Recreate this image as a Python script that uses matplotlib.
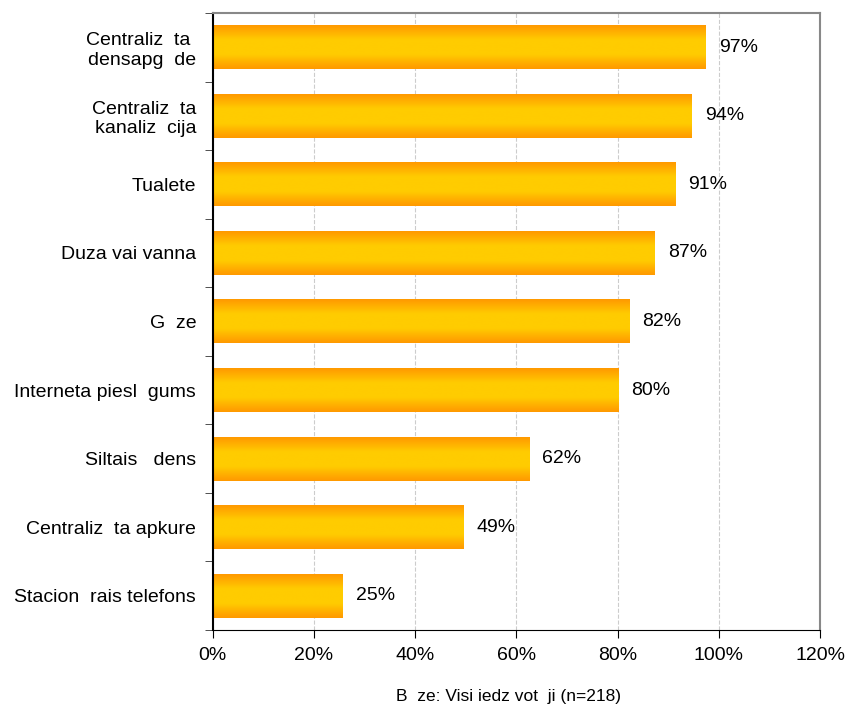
import numpy as np
import matplotlib.pyplot as plt
from matplotlib.colors import LinearSegmentedColormap

plt.rcParams['font.family'] = ['Liberation Sans', 'DejaVu Sans']

categories = ['Centraliz  ta \ndensapg  de', 'Centraliz  ta\nkanaliz  cija', 'Tualete',
              'Duza vai vanna', 'G  ze', 'Interneta piesl  gums', 'Siltais   dens',
              'Centraliz  ta apkure', 'Stacion  rais telefons']
values = [97.4, 94.6, 91.4, 87.3, 82.3, 80.1, 62.5, 49.6, 25.6]
labels = [97, 94, 91, 87, 82, 80, 62, 49, 25]
xticks = [0, 20, 40, 60, 80, 100, 120]

fig = plt.figure(figsize=(8.48, 7.07), dpi=100)
ax = fig.add_axes([0.251, 0.109, 0.716, 0.8725])

cmap = LinearSegmentedColormap.from_list('bar', ['#ff9900', '#ffcc00', '#ffcc00', '#ff9900'])
grad = np.linspace(0, 1, 64).reshape(-1, 1)
h = 0.64
ypos = np.arange(len(categories))
for y, v, lab in zip(ypos, values, labels):
    ax.imshow(grad, cmap=cmap, aspect='auto', extent=[0, v, y + h / 2, y - h / 2],
              interpolation='bicubic', zorder=2)
    ax.text(v + 2.6, y, f'{lab}%', va='center', ha='left', fontsize=14)

ax.set_xlim(0, 120)
ax.set_ylim(len(categories) - 0.5, -0.5)
ax.set_xticks(xticks)
ax.set_xticklabels([f'{t}%' for t in xticks], fontsize=14)
ax.set_yticks(ypos)
ax.set_yticklabels(categories, fontsize=14, ha='right', multialignment='right')
ax.set_yticks(np.arange(-0.5, len(categories), 1), minor=True)
ax.tick_params(axis='y', which='major', length=0, pad=12)
ax.tick_params(axis='y', which='minor', length=6, direction='out', color='#333333')
ax.tick_params(axis='x', length=6, direction='out', pad=6)

ax.grid(axis='x', color='#cccccc', linestyle='--', linewidth=0.8, zorder=0)
ax.set_axisbelow(True)
ax.spines['left'].set_color('black')
ax.spines['left'].set_linewidth(1.5)
ax.spines['bottom'].set_color('black')
ax.spines['top'].set_color('#888888')
ax.spines['top'].set_linewidth(1.5)
ax.spines['right'].set_color('#888888')
ax.spines['right'].set_linewidth(1.5)

fig.text(0.6, 0.015, 'B  ze: Visi iedz vot  ji (n=218)', ha='center', va='center', fontsize=12.5)

fig.savefig('out.png', dpi=100)
